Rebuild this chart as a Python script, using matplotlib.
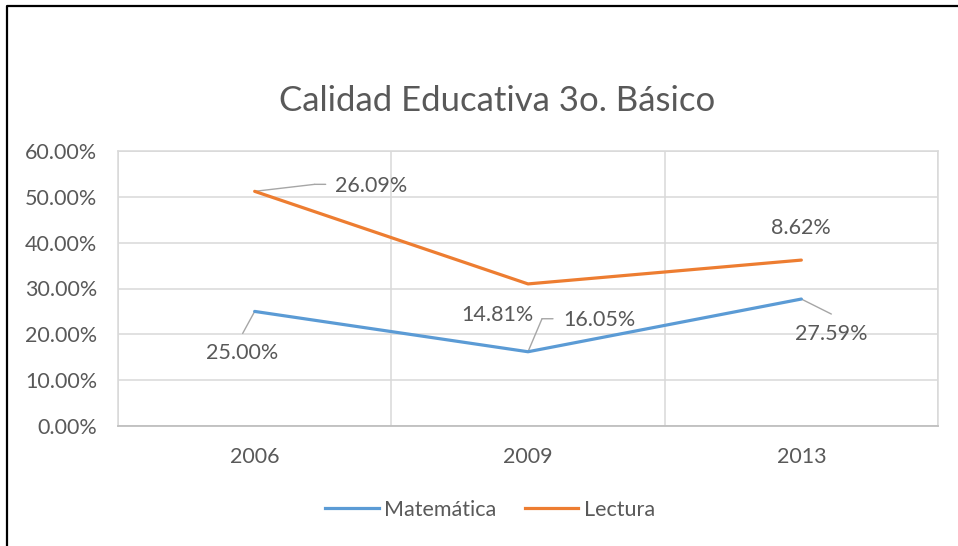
import matplotlib
matplotlib.use("Agg")
import matplotlib.pyplot as plt
from matplotlib.transforms import offset_copy
from matplotlib.lines import Line2D
from matplotlib.ticker import FuncFormatter, FixedLocator

plt.rcParams['font.family'] = ['Lato', 'DejaVu Sans']

years = ["2006", "2009", "2013"]
matematica = [0.250, 0.162, 0.277]
lectura = [0.512, 0.310, 0.362]
mat_labels = ["25.00%", "16.05%", "27.59%"]
lec_labels = ["26.09%", "14.81%", "8.62%"]

BLUE = "#5B9BD5"
ORANGE = "#ED7D31"
TXT = "#595959"
GRID = "#D9D9D9"
LEADER = "#A6A6A6"
FS = 15.5

W, H = 958, 546
fig = plt.figure(figsize=(W / 100, H / 100), dpi=100)
ax = fig.add_axes([118 / W, (H - 426) / H, (938 - 118) / W, (426 - 151) / H])

x = list(range(len(years)))
ax.plot(x, matematica, color=BLUE, lw=2.3, solid_capstyle='round', zorder=3)
ax.plot(x, lectura, color=ORANGE, lw=2.3, solid_capstyle='round', zorder=3)

ax.set_xlim(-0.5, len(years) - 0.5)
ax.set_ylim(0, 0.6)
ax.set_yticks([i / 10 for i in range(7)])
ax.yaxis.set_major_formatter(FuncFormatter(lambda v, p: f"{v*100:.2f}%"))
ax.set_xticks(x)
ax.set_xticklabels(years)
ax.xaxis.set_minor_locator(FixedLocator([i - 0.5 for i in range(len(years) + 1)]))
ax.grid(True, axis='y', which='major', color=GRID, lw=1.1)
ax.grid(True, axis='x', which='minor', color=GRID, lw=1.1)
ax.set_axisbelow(True)
ax.tick_params(axis='both', which='both', length=0, colors=TXT, labelsize=FS)
ax.tick_params(axis='y', pad=15)
ax.tick_params(axis='x', pad=15)
for s in ['top', 'right', 'left']:
    ax.spines[s].set_color(GRID)
    ax.spines[s].set_linewidth(1.1)
ax.spines['bottom'].set_color("#BFBFBF")
ax.spines['bottom'].set_linewidth(1.3)


def label(i, val, text, dx, dy, ha, leader=None):
    tr = offset_copy(ax.transData, fig=fig, x=dx, y=dy, units='dots')
    ax.text(i, val, text, transform=tr, ha=ha, va='center', color=TXT,
            fontsize=FS, zorder=4)
    if leader:
        pts = [(0, 0)] + leader
        for (x0, y0), (x1, y1) in zip(pts[:-1], pts[1:]):
            ax.annotate('', xy=(i, val),
                        xycoords=offset_copy(ax.transData, fig=fig, x=x1, y=y1, units='dots'),
                        xytext=(i, val),
                        textcoords=offset_copy(ax.transData, fig=fig, x=x0, y=y0, units='dots'),
                        arrowprops=dict(arrowstyle='-', color=LEADER, lw=1,
                                        shrinkA=0, shrinkB=0), zorder=2)


# Lectura labels
label(0, lectura[0], lec_labels[0], 80, 5, 'left', [(60, 7), (71, 7)])
label(1, lectura[1], lec_labels[1], 6, -31, 'right')
label(2, lectura[2], lec_labels[2], 0, 32, 'center')
# Matemática labels
label(0, matematica[0], mat_labels[0], -13, -42, 'center', [(-12, -22)])
label(1, matematica[1], mat_labels[1], 35, 32, 'left', [(14, 33), (25, 33)])
label(2, matematica[2], mat_labels[2], 30, -35, 'center', [(30, -15)])

fig.text(497 / W, (H - 101) / H, "Calidad Educativa 3o. Básico", ha='center',
         va='center', fontsize=25, color=TXT)

handles = [Line2D([], [], color=BLUE, lw=2.3), Line2D([], [], color=ORANGE, lw=2.3)]
fig.legend(handles, ["Matemática", "Lectura"], loc='center',
           bbox_to_anchor=(490 / W, (H - 510) / H), ncol=2, frameon=False,
           fontsize=FS, labelcolor=TXT, handlelength=2.5, handletextpad=0.25,
           columnspacing=1.3)

# outer border (top and left)
fig.add_artist(Line2D([7 / W, 7 / W, 1], [0, (H - 6) / H, (H - 6) / H],
                      transform=fig.transFigure, color='black', lw=1.6))

fig.savefig("out.png", dpi=100)
